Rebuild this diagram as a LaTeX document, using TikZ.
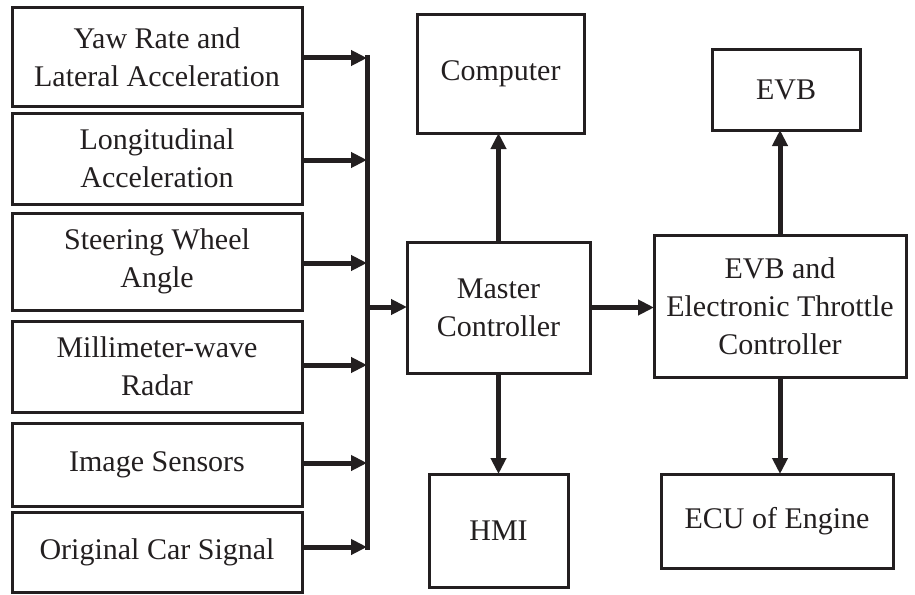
\documentclass[tikz,border=0pt]{standalone}
\usepackage{fontspec}
\setmainfont{Liberation Serif}
\usetikzlibrary{arrows.meta}
\definecolor{ink}{HTML}{231F20}
\begin{document}
\begin{tikzpicture}[x=1pt,y=1pt,
  box/.style={draw=ink, line width=3pt, inner sep=0pt, outer sep=0pt, align=center,
    font=\fontsize{30}{38}\selectfont, text=ink},
  arr/.style={draw=ink, line width=5pt, -{Triangle[length=16pt,width=15pt]}},
  busline/.style={draw=ink, line width=5pt}]
\useasboundingbox (0,0) rectangle (915,-594);
% left column
\node[box, minimum width=290, minimum height=98] (b1) at (157,-57) {Yaw Rate and\\Lateral Acceleration};
\node[box, minimum width=290, minimum height=91] (b2) at (157,-158.5) {Longitudinal\\Acceleration};
\node[box, minimum width=290, minimum height=97] (b3) at (157,-261.5) {Steering Wheel\\Angle};
\node[box, minimum width=290, minimum height=91] (b4) at (157,-366.5) {Millimeter-wave\\Radar};
\node[box, minimum width=290, minimum height=83] (b5) at (157,-464.5) {Image Sensors};
\node[box, minimum width=290, minimum height=80] (b6) at (157,-552) {Original Car Signal};
% middle
\node[box, minimum width=183, minimum height=131] (master) at (498.5,-307.5) {Master\\Controller};
\node[box, minimum width=167, minimum height=118] (comp) at (500.5,-74) {Computer};
\node[box, minimum width=139, minimum height=113] (hmi) at (498.5,-530.5) {HMI};
% right
\node[box, minimum width=148, minimum height=80] (evb) at (786,-90) {EVB};
\node[box, minimum width=252, minimum height=142] (ctrl) at (780,-306) {EVB and\\Electronic Throttle\\Controller};
\node[box, minimum width=232, minimum height=94] (ecu) at (777,-521) {ECU of Engine};
% bus
\coordinate (j1) at (367,-58);
\coordinate (j2) at (367,-160);
\coordinate (j3) at (367,-263);
\coordinate (j4) at (367,-365);
\coordinate (j5) at (367,-463);
\coordinate (j6) at (367,-547);
\coordinate (jm) at (367,-307);
\draw[busline] ([yshift=2.5pt]j1) -- ([yshift=-2.5pt]j6);
\draw[arr] (b1.east |- j1) -- (j1);
\draw[arr] (b2.east |- j2) -- (j2);
\draw[arr] (b3.east |- j3) -- (j3);
\draw[arr] (b4.east |- j4) -- (j4);
\draw[arr] (b5.east |- j5) -- (j5);
\draw[arr] (b6.east |- j6) -- (j6);
\draw[arr] (jm) -- (jm -| master.west);
% master connections
\draw[arr] (master.north) -- (master.north |- comp.south);
\draw[arr] (master.south) -- (master.south |- hmi.north);
\draw[arr] (master.east) -- (master.east -| ctrl.west);
% controller connections
\draw[arr] (ctrl.north) -- (ctrl.north |- evb.south);
\draw[arr] (ctrl.south) -- (ctrl.south |- ecu.north);
\end{tikzpicture}
\end{document}
